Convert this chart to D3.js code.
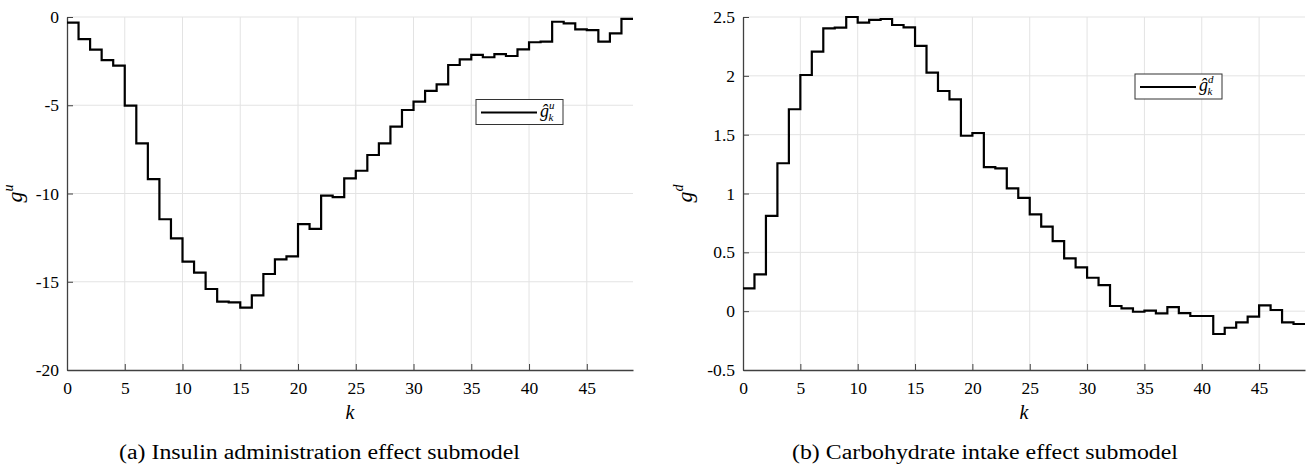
<!DOCTYPE html>
<html>
<head>
<meta charset="utf-8">
<script src="https://cdn.jsdelivr.net/npm/d3@7"></script>
<style>
  html, body { margin: 0; padding: 0; background: #fff; }
  svg { display: block; }
  text { font-family: "Liberation Serif", "Times New Roman", serif; fill: #000; }
</style>
</head>
<body>
<svg id="fig" width="1313" height="467"></svg>
<script>
// Step-response coefficients, one value per sample k = 0..48
const kSteps = d3.range(0, 49);

const insulinEffect = [
  -0.32, -1.25, -1.85, -2.44, -2.76, -5.02, -7.16, -9.18, -11.46, -12.54,
  -13.86, -14.48, -15.41, -16.13, -16.17, -16.47, -15.77, -14.56, -13.73, -13.56,
  -11.73, -12.00, -10.12, -10.20, -9.14, -8.71, -7.82, -7.16, -6.21, -5.27,
  -4.80, -4.18, -3.82, -2.72, -2.40, -2.15, -2.28, -2.10, -2.21, -1.83,
  -1.43, -1.40, -0.27, -0.36, -0.70, -0.74, -1.40, -0.93, -0.11
];

const carbEffect = [
  0.194, 0.313, 0.809, 1.257, 1.716, 2.007, 2.205, 2.404, 2.409, 2.500,
  2.452, 2.475, 2.483, 2.432, 2.412, 2.254, 2.027, 1.871, 1.800, 1.491,
  1.514, 1.225, 1.214, 1.044, 0.963, 0.823, 0.718, 0.596, 0.449, 0.373,
  0.284, 0.222, 0.044, 0.024, -0.005, 0.004, -0.018, 0.035, -0.016, -0.041,
  -0.041, -0.194, -0.141, -0.095, -0.047, 0.050, 0.010, -0.095, -0.109
];

const xTicks = [0, 5, 10, 15, 20, 25, 30, 35, 40, 45];
const insulinYTicks = [-20, -15, -10, -5, 0];
const carbYTicks = [-0.5, 0, 0.5, 1, 1.5, 2, 2.5];

const svg = d3.select("#fig");

function panel(cfg) {
  const g = svg.append("g");
  const x = d3.scaleLinear().domain([0, 49]).range([cfg.left, cfg.right]);
  const y = d3.scaleLinear().domain(cfg.yDomain).range([cfg.bottom, cfg.top]);

  // grid
  g.append("g").selectAll("line")
    .data(xTicks.filter(t => t > 0))
    .join("line")
    .attr("x1", d => x(d)).attr("x2", d => x(d))
    .attr("y1", cfg.top).attr("y2", cfg.bottom)
    .attr("stroke", "#e3e3e3").attr("stroke-width", 1);
  g.append("g").selectAll("line")
    .data(cfg.yTicks.slice(1))
    .join("line")
    .attr("x1", cfg.left).attr("x2", cfg.right)
    .attr("y1", d => y(d)).attr("y2", d => y(d))
    .attr("stroke", "#e3e3e3").attr("stroke-width", 1);

  // axes (ticks point inward)
  const xAxis = d3.axisBottom(x).tickValues(xTicks).tickSizeInner(-6).tickSizeOuter(0).tickPadding(12);
  const gx = g.append("g").attr("transform", `translate(0,${cfg.bottom})`).call(xAxis);
  const yAxis = d3.axisLeft(y).tickValues(cfg.yTicks).tickSizeInner(-6).tickSizeOuter(0).tickPadding(8)
    .tickFormat(d => String(d));
  const gy = g.append("g").attr("transform", `translate(${cfg.left},0)`).call(yAxis);
  [gx, gy].forEach(a => {
    a.select(".domain").attr("stroke", "#404040").attr("stroke-width", 1.3);
    a.selectAll(".tick line").attr("stroke", "#404040").attr("stroke-width", 1);
    a.selectAll(".tick text").attr("font-size", 17.5).attr("fill", "#000");
  });
  gx.selectAll(".tick text").attr("dy", "0.71em");

  // step trace
  const pts = cfg.values.map((v, i) => [kSteps[i], v]);
  pts.push([kSteps[kSteps.length - 1] + 1, cfg.values[cfg.values.length - 1]]);
  const line = d3.line().x(d => x(d[0])).y(d => y(d[1])).curve(d3.curveStepAfter);
  g.append("path").datum(pts).attr("d", line)
    .attr("fill", "none").attr("stroke", "#000").attr("stroke-width", 2.2)
    .attr("stroke-linejoin", "miter");

  // axis titles
  g.append("text").attr("x", (cfg.left + cfg.right) / 2).attr("y", 419)
    .attr("text-anchor", "middle").attr("font-style", "italic").attr("font-size", 20).text("k");
  const yl = g.append("text")
    .attr("transform", `translate(${cfg.yLabelX},${(cfg.top + cfg.bottom) / 2}) rotate(-90)`)
    .attr("text-anchor", "middle").attr("font-size", 22);
  yl.append("tspan").attr("font-style", "italic").text("g");
  yl.append("tspan").attr("font-style", "italic").attr("font-size", 14).attr("dy", -9).text(cfg.sup);

  // legend
  const lg = g.append("g").attr("transform", `translate(${cfg.legX},${cfg.legY})`);
  lg.append("rect").attr("width", 87).attr("height", 25)
    .attr("fill", "#fff").attr("stroke", "#333").attr("stroke-width", 1);
  lg.append("line").attr("x1", 5).attr("x2", 61).attr("y1", 13).attr("y2", 13)
    .attr("stroke", "#000").attr("stroke-width", 2.2);
  const lt = lg.append("text").attr("x", 64).attr("y", 17).attr("font-size", 18).attr("font-style", "italic");
  lt.append("tspan").text("ĝ");
  lt.append("tspan").attr("font-size", 11).attr("dy", -8).text(cfg.sup);
  lt.append("tspan").attr("font-size", 11).attr("dx", -6).attr("dy", 12).text("k");

  // caption
  svg.append("text").attr("x", cfg.capX).attr("y", 459).attr("text-anchor", "middle")
    .attr("font-size", 20).attr("textLength", cfg.capW).attr("lengthAdjust", "spacingAndGlyphs")
    .text(cfg.caption);
}

panel({
  left: 67, right: 633, top: 17, bottom: 370,
  yDomain: [-20, 0], yTicks: insulinYTicks,
  values: insulinEffect, sup: "u", yLabelX: 22,
  legX: 476, legY: 99.5,
  capX: 319.5, capW: 401, caption: "(a) Insulin administration effect submodel"
});

panel({
  left: 743, right: 1305, top: 17, bottom: 370,
  yDomain: [-0.5, 2.5], yTicks: carbYTicks,
  values: carbEffect, sup: "d", yLabelX: 692,
  legX: 1135, legY: 74,
  capX: 985, capW: 386, caption: "(b) Carbohydrate intake effect submodel"
});
</script>
</body>
</html>
